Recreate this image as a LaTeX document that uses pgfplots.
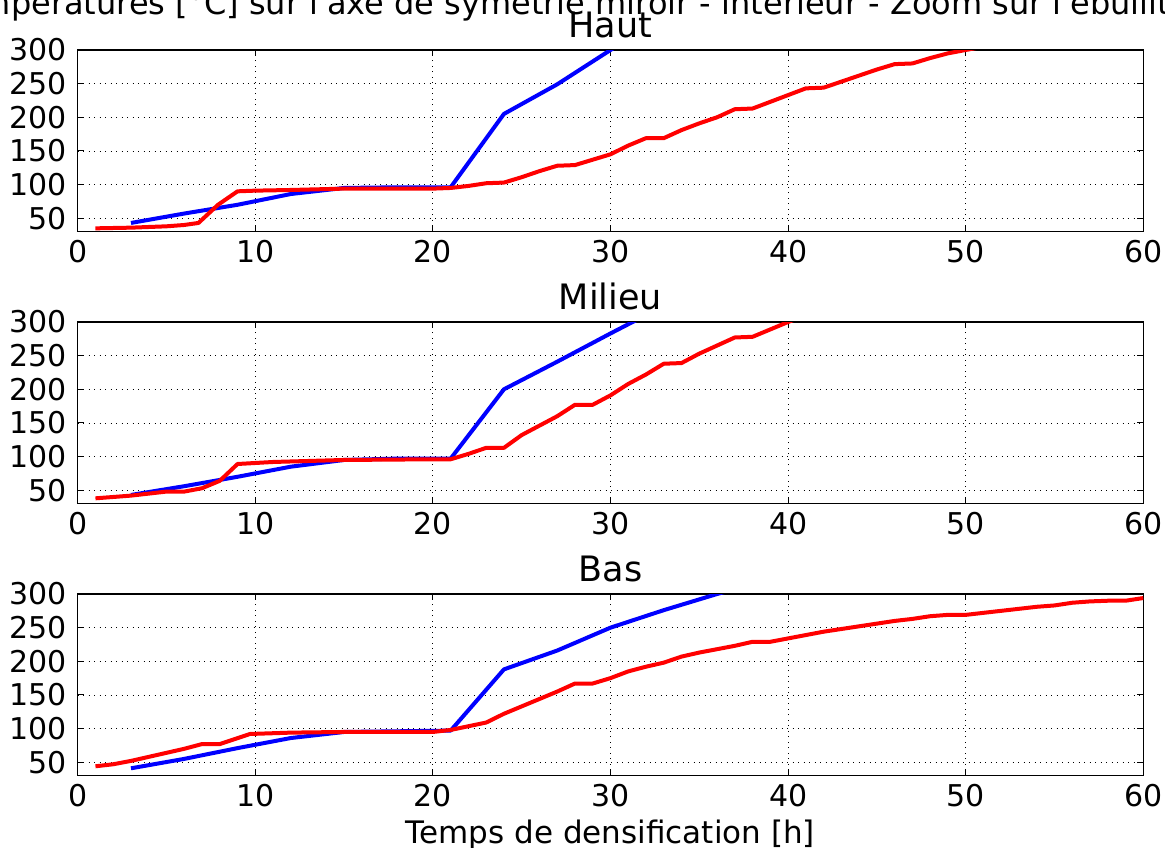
\documentclass[border=0pt]{standalone}
\usepackage{fontspec}
\setmainfont{DejaVu Sans}
\usepackage{pgfplots}
\pgfplotsset{compat=1.18}
\pgfplotsset{
 myax/.style={
  scale only axis, width=1065.6pt, height=181.7pt,
  xmin=0,xmax=60,ymin=30,ymax=300,
  xtick={0,10,...,60}, ytick={50,100,...,300},
  tick align=inside, major tick length=6pt,
  grid=major,
  major grid style={black, line width=0.8pt, dash pattern=on 1pt off 4.5pt},
  axis line style={black, line width=1.3pt},
  every tick/.style={black, line width=1pt},
  /pgf/number format/assume math mode=true,
  tick label style={font=\fontsize{30}{36}\selectfont, inner sep=0pt},
  xticklabel shift=8.3pt, yticklabel shift=11pt,
  every axis title shift=0pt,
  title style={font=\fontsize{35}{42}\selectfont, at={(axis description cs:0.5,1)}, anchor=base, yshift=12.7pt, inner sep=0pt},
  clip=true,
 },
 blueline/.style={blue, line width=4pt, line join=round, mark=none},
 redline/.style={red, line width=4pt, line join=round, mark=none},
}
\begin{document}
\begin{tikzpicture}
\node[anchor=base, font=\fontsize{32}{38}\selectfont, inner sep=0pt] at (582.5pt,-15pt) {Températures [°C] sur l\textquotesingle axe de symétrie miroir - intérieur - Zoom sur l\textquotesingle ébullition};

% ---------- Haut ----------
\begin{axis}[myax, at={(77.7pt,-231.7pt)}, anchor=south west, title={Haut}]
\addplot[blueline] coordinates {(3,43) (6,57) (9,70) (12,86) (15,95) (18,96) (21,96) (24,205) (27,249) (30,300) (33,350)};
\addplot[redline] coordinates {(1,35) (3,36) (5,38) (6,40) (6.8,43) (7.9,70) (9,90) (10,91) (12,92) (15,94) (18,94) (20,94) (21,95) (22,98) (23,102) (24,103) (25,111) (26,120) (27,128) (28,129) (29,137) (30,145) (31,158) (32,169) (33,169) (34,181) (35,191) (36,200) (37,212) (38,213) (39,223) (40,233) (41,243) (42,244) (43,253) (44,262) (45,271) (46,279) (47,280) (48,288) (49,295) (50,300) (51,305)};
\end{axis}

% ---------- Milieu ----------
\begin{axis}[myax, at={(77.7pt,-503.7pt)}, anchor=south west, title={Milieu}]
\addplot[blueline] coordinates {(3,43) (6,56) (9,70) (12,85) (15,95) (18,97) (21,97) (24,200) (27,241) (30,283) (33,324)};
\addplot[redline] coordinates {(1,38) (3,42) (5,48) (6,48) (7,53) (8,64) (9,89) (11,92) (15,95) (20,96) (21,96) (22,104) (23,113) (24,113) (25,132) (26,146) (27,160) (28,177) (29,177) (30,191) (31,208) (32,222) (33,238) (34,239) (35,253) (36,265) (37,277) (38,278) (39,289) (40,300) (41,310)};
\end{axis}

% ---------- Bas ----------
\begin{axis}[myax, at={(77.7pt,-775.7pt)}, anchor=south west, title={Bas},
  xlabel={Temps de densification [h]},
  xlabel style={font=\fontsize{31}{36}\selectfont, at={(axis description cs:0.5,0)}, anchor=base, yshift=-67.3pt, inner sep=0pt}]
\addplot[blueline] coordinates {(3,41) (6,55) (9,71) (12,86) (15,95) (18,96) (21,97) (24,188) (27,216) (30,250) (33,276) (36,300) (39,322)};
\addplot[redline] coordinates {(1,44) (2,47) (3,52) (4,58) (5,64) (6,70) (7,77) (8,77) (9.7,92) (12,94) (15,95) (20,95) (21,98) (23,109) (24,122) (25,133) (26,144) (27,155) (28,167) (29,167) (30,175) (31,185) (32,192) (33,198) (34,207) (35,213) (36,218) (37,223) (38,229) (39,229) (40,234) (41,239) (42,244) (43,248) (44,252) (45,256) (46,260) (47,263) (48,267) (49,269) (50,269) (51,272) (52,275) (53,278) (54,281) (55,283) (56,287) (57,289) (58,290) (59,290) (60,294)};
\end{axis}

\pgfresetboundingbox
\path[use as bounding box] (0,0) rectangle (1165pt,-848pt);
\end{tikzpicture}
\end{document}
